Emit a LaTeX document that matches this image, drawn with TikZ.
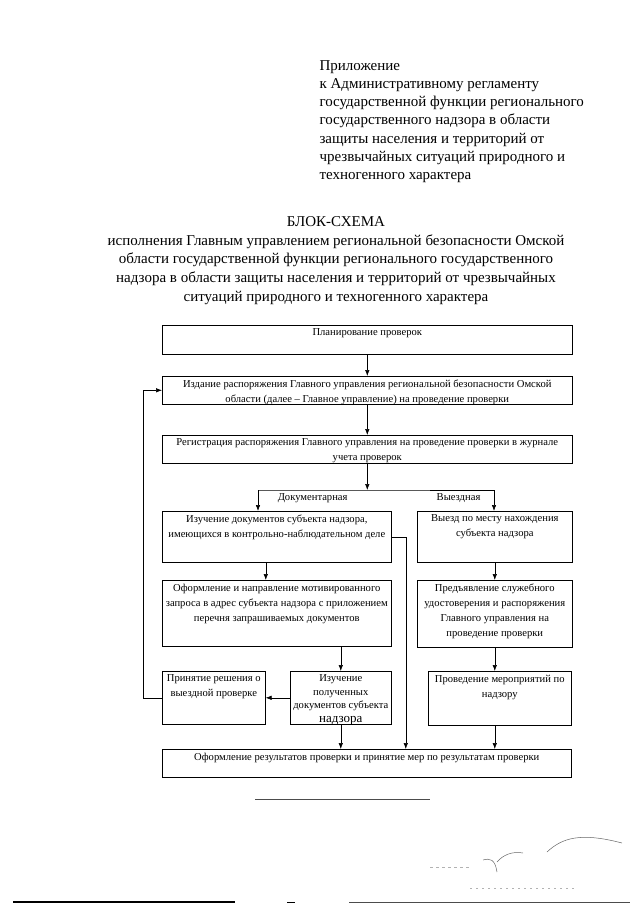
\documentclass[tikz,border=0pt]{standalone}
\usepackage{fontspec}
\setmainfont{Liberation Serif}
\usepackage{tikz}
\usetikzlibrary{positioning,arrows.meta}

% text inside a box: width, height (pt), lines
\newcommand{\btext}[3]{\parbox[t][#2pt][t]{#1pt}{\centering #3}}

\tikzset{
  blok/.style={draw, line width=0.6pt, inner xsep=2pt, inner ysep=3.5pt, anchor=north west,
    font=\fontsize{10.6}{15}\selectfont},
  strel/.style={line width=0.6pt, -{Latex[length=6pt,width=4.5pt]}},
  linia/.style={line width=0.6pt}
}

\begin{document}
\begin{tikzpicture}[x=1pt,y=-1pt]
\useasboundingbox (0,0) rectangle (640,905);

%header%
\node[anchor=north west, align=left, font=\fontsize{15}{18.2}\selectfont] (pril) at (316,57)
  {Приложение\\к Административному регламенту\\государственной функции регионального\\государственного надзора в области\\защиты населения и территорий от\\чрезвычайных ситуаций природного и\\техногенного характера};

\node[anchor=north, align=center, font=\fontsize{15}{18.7}\selectfont] (titul) at (336,213)
  {БЛОК-СХЕМА\\исполнения Главным управлением региональной безопасности Омской\\области государственной функции регионального государственного\\надзора в области защиты населения и территорий от чрезвычайных\\ситуаций природного и техногенного характера};

%boxes%
\node[blok] (plan) at (162,325) {\btext{406}{22}{Планирование проверок}};
\node[blok] (izd) at (162,376) {\btext{406}{21}{Издание распоряжения Главного управления региональной безопасности Омской\\области (далее -- Главное управление) на проведение проверки}};
\node[blok] (reg) at (162,435) {\btext{406}{21}{Регистрация распоряжения Главного управления на проведение проверки в журнале\\учета проверок}};
\node[blok] (izuch) at (162,511) {\btext{225}{44}{Изучение документов субъекта надзора,\\имеющихся в контрольно-наблюдательном деле}};
\node[blok] (vyezd) at (417,511) {\btext{151}{44}{Выезд по месту нахождения\\субъекта надзора}};
\node[blok] (zapros) at (162,580) {\btext{225}{59}{Оформление и направление мотивированного\\запроса в адрес субъекта надзора с приложением\\перечня запрашиваемых документов}};
\node[blok] (predj) at (417,580) {\btext{151}{60}{Предъявление служебного\\удостоверения и распоряжения\\Главного управления на\\проведение проверки}};
\node[blok] (poluch) at (290,671) {\btext{97}{46}{\fontsize{10.6}{13.5}\selectfont Изучение\\полученных\\документов субъекта\\{\fontsize{13}{13.5}\selectfont надзора}}};
\node[blok] (resh) at (162,671) {\btext{99}{46}{Принятие решения о\\выездной проверке}};
\node[blok] (meropr) at (428,671) {\btext{139}{47}{Проведение мероприятий по\\надзору}};
\node[blok] (itog) at (162,749) {\btext{405}{21}{Оформление результатов проверки и принятие мер по результатам проверки}};

%arrows%
\draw[strel] (plan.south) -- (izd.north);
\draw[strel] (izd.south) -- (reg.north);

\coordinate (razv) at (reg.south |- 0,490);
\coordinate (dL) at (258,490);
\coordinate (dR) at (494,490);
\draw[strel] (reg.south) -- (razv);
\draw[linia] (dL) -- node[below, font=\fontsize{10.6}{12}\selectfont] {Документарная} (razv)
  -- node[pos=0.72, below, font=\fontsize{10.6}{12}\selectfont] {Выездная} (dR);
\draw[strel] (dL) -- (dL |- izuch.north);
\draw[strel] (dR) -- (dR |- vyezd.north);

\draw[strel] ([xshift=-11pt]izuch.south) -- ([xshift=-11pt]izuch.south |- zapros.north);
\draw[strel] (vyezd.south) -- (vyezd.south |- predj.north);
\draw[strel] (poluch.north |- zapros.south) -- (poluch.north);
\draw[strel] (predj.south) -- (predj.south |- meropr.north);
\draw[strel] (poluch.west) -- (resh.east);

%return to the order%
\draw[strel] (resh.west) -- ++(-19,0) |- (izd.west);

\draw[strel] (izuch.east) -| ([xshift=39pt]itog.north);
\draw[strel] (poluch.south) -- (poluch.south |- itog.north);
\draw[strel] (predj.south |- meropr.south) -- (predj.south |- itog.north);

%lines at the bottom%
\draw[line width=0.8pt, black!70] (255,799) -- (430,799);
\draw[line width=1.4pt] (13,902) -- (235,902);
\draw[line width=1pt] (287,902) -- (295,902);
\draw[line width=1pt, black!70] (349,902) -- (630,902);

%signature%
\draw[black!60, line width=0.5pt] (547,852) .. controls (562,838) and (580,832) .. (622,843);
\draw[black!60, line width=0.5pt] (497,862) .. controls (503,855) and (512,851) .. (523,853);
\draw[black!60, line width=0.5pt] (483,860) .. controls (490,858) and (495,859) .. (497,872);
\draw[black!30, line width=0.5pt, dash pattern=on 3pt off 3pt] (430,867) -- (470,867);
\draw[black!30, line width=0.5pt, dash pattern=on 2pt off 4pt] (470,888) -- (575,888);
\end{tikzpicture}
\end{document}
